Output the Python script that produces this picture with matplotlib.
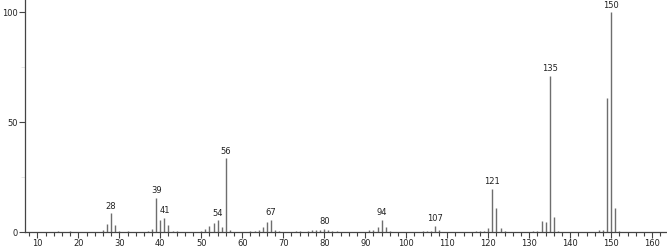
import matplotlib
matplotlib.use("Agg")
import matplotlib.pyplot as plt
from matplotlib.ticker import MultipleLocator

mz = [15, 18, 26, 27, 28, 29, 30, 32, 37, 38, 39, 40, 41, 42, 43, 44,
      50, 51, 52, 53, 54, 55, 56, 57, 62, 63, 64, 65, 66, 67, 68, 69,
      73, 74, 76, 77, 78, 79, 80, 81, 82, 83, 91, 92, 93, 94, 95, 96,
      104, 105, 106, 107, 108, 117, 118, 119, 120, 121, 122, 123, 124,
      131, 132, 133, 134, 135, 136, 137, 147, 148, 149, 150, 151, 152]
intensity = [0.5, 0.5, 0.8, 3.8, 8.6, 3.2, 0.6, 0.5, 0.5, 1.3, 15.7, 5.7, 6.4, 3.3, 0.7, 0.7,
             0.7, 1.4, 2.9, 4.1, 5.3, 2.1, 33.6, 1.0, 0.6, 0.7, 0.8, 2.1, 4.5, 5.6, 0.8, 0.6,
             0.5, 0.5, 0.6, 0.9, 1.0, 1.1, 1.5, 0.8, 0.7, 0.5, 0.8, 1.0, 2.1, 5.6, 2.3, 0.5,
             0.5, 0.7, 0.7, 2.9, 1.0, 0.5, 0.6, 0.6, 2.0, 19.8, 11.0, 1.8, 0.5,
             0.5, 0.6, 5.1, 4.7, 71.0, 7.0, 0.7, 1.0, 1.0, 61.0, 100.0, 11.0, 0.6]
labeled = [28, 39, 41, 54, 56, 67, 80, 94, 107, 121, 135, 150]

fig = plt.figure(figsize=(6.67, 2.49), dpi=100)
ax = fig.add_axes([0.0375, 0.068, 0.9625, 0.932])

ax.vlines(mz, 0, intensity, colors="#6e6e6e", linewidth=1.0)

lookup = dict(zip(mz, intensity))
for m in labeled:
    ax.text(m, lookup[m] + 1.2, str(m), ha="center", va="bottom",
            fontsize=6, color="#222222")

ax.set_xlim(7.0, 163.6)
ax.set_ylim(0, 105.6)

for s in ["top", "right"]:
    ax.spines[s].set_visible(False)
ax.spines["left"].set_color("#444444")
ax.spines["bottom"].set_color("#444444")
ax.spines["left"].set_linewidth(0.9)
ax.spines["bottom"].set_linewidth(0.9)

ax.xaxis.set_minor_locator(MultipleLocator(2))
ax.set_xticks(range(10, 161, 10))
ax.yaxis.set_major_locator(MultipleLocator(50))
ax.yaxis.set_minor_locator(MultipleLocator(25))

ax.tick_params(axis="x", which="major", length=4, width=0.8, color="#444444",
               labelsize=6, pad=1, labelcolor="#222222")
ax.tick_params(axis="x", which="minor", length=3, width=0.8, color="#444444")
ax.tick_params(axis="y", which="major", length=4, width=0.8, color="#444444",
               labelsize=6, pad=1, labelcolor="#222222")
ax.tick_params(axis="y", which="minor", length=3, width=0.5, color="#dddddd")

fig.savefig("out.png", dpi=100)
